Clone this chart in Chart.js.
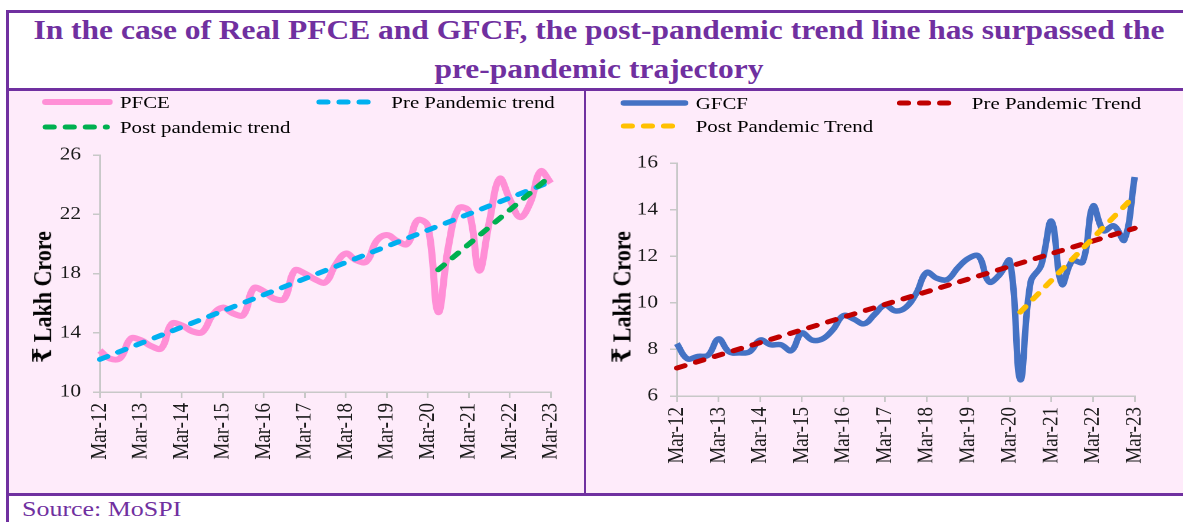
<!DOCTYPE html>
<html>
<head>
<meta charset="utf-8">
<script src="https://cdn.jsdelivr.net/npm/chart.js@4.4.1/dist/chart.umd.min.js"></script>
<style>
  body { margin: 0; width: 1183px; height: 522px; overflow: hidden; position: relative; background: #fff;
         font-family: 'Liberation Serif', 'DejaVu Serif', serif; }
  .rule { position: absolute; background: #7030A0; }
  .panel { position: absolute; top: 91px; height: 402px; background: #FEEBFA; }
  .stretch { position: absolute; transform: scaleX(1.18); transform-origin: 0 0; }
  .title { position: absolute; left: 8px; top: 11px; width: 1182px; text-align: center; color: #7030A0;
           font-weight: bold; font-size: 26.7px; line-height: 39px; transform: scaleX(1.18); transform-origin: 50% 0; }
  .source { position: absolute; left: 22px; top: 496px; line-height: 26px; font-size: 22px; color: #7030A0;
            transform: scaleX(1.18); transform-origin: 0 0; white-space: nowrap; }
  .legend-item { position: absolute; height: 20px; white-space: nowrap; font-size: 17.7px; color: #000; line-height: 20px; }
  .legend-item svg { position: absolute; top: 5px; left: 0; }
  .legend-item span { position: absolute; top: 0; }
  .ytitle { position: absolute; font-weight: bold; font-size: 22px; color: #000; white-space: nowrap;
            transform: translate(-50%, -50%) rotate(-90deg); }
  canvas { position: absolute; left: 0; top: 0; }
</style>
</head>
<body>
<div class="rule" style="left:6px;top:10px;width:1190px;height:3px"></div>
<div class="rule" style="left:6px;top:10px;width:3px;height:520px"></div>
<div class="rule" style="left:6px;top:88px;width:1190px;height:3px"></div>
<div class="rule" style="left:6px;top:493px;width:1190px;height:3px"></div>
<div class="panel" style="left:9px;width:575px"></div>
<div class="rule" style="left:584px;top:91px;width:2px;height:402px"></div>
<div class="panel" style="left:586px;width:604px"></div>

<div class="title">In the case of Real PFCE and GFCF, the post-pandemic trend line has surpassed the<br>pre-pandemic trajectory</div>

<div class="stretch" style="left:9px;top:91px;width:487px;height:402px">
  <canvas id="pfceChart" width="487" height="402"></canvas>
  <div id="pfceLegend"></div>
  <div class="ytitle" style="left:28px;top:206px">₹ Lakh Crore</div>
</div>

<div class="stretch" style="left:586px;top:91px;width:512px;height:402px">
  <canvas id="gfcfChart" width="512" height="402"></canvas>
  <div id="gfcfLegend"></div>
  <div class="ytitle" style="left:30px;top:206px">₹ Lakh Crore</div>
</div>

<div class="source">Source: MoSPI</div>

<script>
// Quarterly data, Mar-12 to Mar-23
const quarters = [
  'Mar-12', 'Jun-12', 'Sep-12', 'Dec-12', 'Mar-13', 'Jun-13', 'Sep-13', 'Dec-13',
  'Mar-14', 'Jun-14', 'Sep-14', 'Dec-14', 'Mar-15', 'Jun-15', 'Sep-15', 'Dec-15',
  'Mar-16', 'Jun-16', 'Sep-16', 'Dec-16', 'Mar-17', 'Jun-17', 'Sep-17', 'Dec-17',
  'Mar-18', 'Jun-18', 'Sep-18', 'Dec-18', 'Mar-19', 'Jun-19', 'Sep-19', 'Dec-19',
  'Mar-20', 'Jun-20', 'Sep-20', 'Dec-20', 'Mar-21', 'Jun-21', 'Sep-21', 'Dec-21',
  'Mar-22', 'Jun-22', 'Sep-22', 'Dec-22', 'Mar-23'
];
const yearTicks = ['Mar-12', 'Mar-13', 'Mar-14', 'Mar-15', 'Mar-16', 'Mar-17',
                   'Mar-18', 'Mar-19', 'Mar-20', 'Mar-21', 'Mar-22', 'Mar-23'];

const pfceValues = [
  12.8, 12.25, 12.3, 13.6, 13.5, 13.1, 12.95, 14.6,
  14.5, 14.1, 14.05, 15.2, 15.7, 15.3, 15.2, 17.0,
  16.8, 16.3, 16.3, 18.2, 18.0, 17.6, 17.4, 18.6,
  19.35, 18.9, 18.8, 20.2, 20.6, 20.2, 20.0, 21.6,
  21.2, 15.4, 19.8, 22.4, 22.2, 18.2, 21.5, 24.4,
  23.0, 21.8, 22.8, 24.9, 24.1
];
const gfcfValues = [
  8.25, 7.6, 7.7, 7.75, 8.45, 7.9, 7.85, 7.9,
  8.4, 8.2, 8.2, 7.95, 8.7, 8.4, 8.45, 8.85,
  9.45, 9.3, 9.1, 9.5, 9.9, 9.65, 9.8, 10.4,
  11.3, 11.05, 11.0, 11.5, 11.9, 12.0, 10.9, 11.2,
  11.8, 6.7, 10.9, 11.6, 13.5, 10.8, 11.8, 11.75,
  14.15, 13.1, 13.3, 12.7, 15.4
];

// trend lines: start and end quarter, with their values
const preTrendSpan = ['Mar-12', 'Mar-23'];
const postTrendSpan = ['Jun-20', 'Mar-23'];
const pfcePreTrend = [12.2, 24.2];
const pfcePostTrend = [18.25, 24.6];
const gfcfPreTrend = [7.2, 13.2];
const gfcfPostTrend = [9.6, 14.6];

const pfceTicks = [10, 14, 18, 22, 26];
const gfcfTicks = [6, 8, 10, 12, 14, 16];

const FONT = "'Liberation Serif', 'DejaVu Serif', serif";
const axisGrey = '#C8C8C8';
const tickColor = '#1a1a1a';
const trendDash = [7, 10];

function toPoints(span, values) {
  return span.map((q, i) => ({ x: q, y: values[i] }));
}

function buildChart(id, cfg) {
  return new Chart(document.getElementById(id), {
    type: 'line',
    data: { labels: quarters, datasets: cfg.datasets },
    options: {
      responsive: false,
      animation: false,
      devicePixelRatio: 2,
      layout: { padding: { top: cfg.padTop, right: cfg.padRight, left: 0, bottom: 0 } },
      plugins: { legend: { display: false }, tooltip: { enabled: false } },
      elements: { point: { radius: 0 } },
      scales: {
        x: {
          offset: false,
          afterFit: function(s) { s.height = cfg.xAxisHeight; },
          grid: { drawOnChartArea: false, tickLength: 6, color: axisGrey, lineWidth: 1.5 },
          border: { color: axisGrey, width: 1.5 },
          ticks: {
            autoSkip: false, minRotation: 90, maxRotation: 90, padding: 5,
            color: tickColor, font: { family: FONT, size: 19 },
            callback: function(v, i) { return yearTicks.includes(quarters[i]) ? quarters[i] : null; }
          }
        },
        y: {
          min: cfg.yTicks[0],
          max: cfg.yTicks[cfg.yTicks.length - 1],
          afterBuildTicks: function(s) { s.ticks = cfg.yTicks.map(v => ({ value: v })); },
          afterFit: function(s) { s.width = cfg.yAxisWidth; },
          grid: { drawOnChartArea: false, tickLength: 6, color: axisGrey, lineWidth: 1.5 },
          border: { color: axisGrey, width: 1.5 },
          ticks: { padding: 10, color: tickColor, font: { family: FONT, size: 18 } }
        }
      }
    }
  });
}

// HTML legend built from the chart's datasets
function buildLegend(chart, elId, slots) {
  const el = document.getElementById(elId);
  chart.data.datasets.forEach(function(ds, i) {
    const s = slots[i];
    const dash = ds.borderDash ? ds.borderDash.join(' ') : 'none';
    const item = document.createElement('div');
    item.className = 'legend-item';
    item.style.left = s.x + 'px';
    item.style.top = (s.y - 10) + 'px';
    item.innerHTML =
      '<svg width="' + s.w + '" height="10"><line x1="3" y1="5" x2="' + (s.w - 3) + '" y2="5" stroke="' +
      ds.borderColor + '" stroke-width="' + ds.borderWidth + '" stroke-linecap="round" stroke-dasharray="' +
      dash + '"/></svg><span style="left:' + (s.tx - s.x) + 'px">' + ds.label + '</span>';
    el.appendChild(item);
  });
}

const pfceChart = buildChart('pfceChart', {
  yTicks: pfceTicks, padTop: 64, padRight: 22, xAxisHeight: 101, yAxisWidth: 77,
  datasets: [
    { label: 'PFCE', data: pfceValues, borderColor: '#FF8FD6', borderWidth: 6, tension: 0.4, order: 3 },
    { label: 'Pre Pandemic trend', data: toPoints(preTrendSpan, pfcePreTrend), borderColor: '#00B0F0',
      borderWidth: 5, borderDash: trendDash, borderCapStyle: 'round', order: 2 },
    { label: 'Post pandemic trend', data: toPoints(postTrendSpan, pfcePostTrend), borderColor: '#00B050',
      borderWidth: 5, borderDash: trendDash, borderCapStyle: 'round', order: 1 }
  ]
});

const gfcfChart = buildChart('gfcfChart', {
  yTicks: gfcfTicks, padTop: 72, padRight: 47, xAxisHeight: 97, yAxisWidth: 77,
  datasets: [
    { label: 'GFCF', data: gfcfValues, borderColor: '#4472C4', borderWidth: 5.5, tension: 0.4, order: 3 },
    { label: 'Pre Pandemic Trend', data: toPoints(preTrendSpan, gfcfPreTrend), borderColor: '#C00000',
      borderWidth: 5, borderDash: trendDash, borderCapStyle: 'round', order: 2 },
    { label: 'Post Pandemic Trend', data: toPoints(postTrendSpan, gfcfPostTrend), borderColor: '#FFC000',
      borderWidth: 5, borderDash: trendDash, borderCapStyle: 'round', order: 1 }
  ]
});

buildLegend(pfceChart, 'pfceLegend', [
  { x: 28, w: 60, tx: 94, y: 11 },
  { x: 260, w: 54, tx: 324, y: 11 },
  { x: 28, w: 58, tx: 94, y: 35.5 }
]);
buildLegend(gfcfChart, 'gfcfLegend', [
  { x: 29, w: 58, tx: 93, y: 12 },
  { x: 263, w: 54, tx: 327, y: 12 },
  { x: 29, w: 54, tx: 93, y: 35 }
]);
</script>
</body>
</html>
